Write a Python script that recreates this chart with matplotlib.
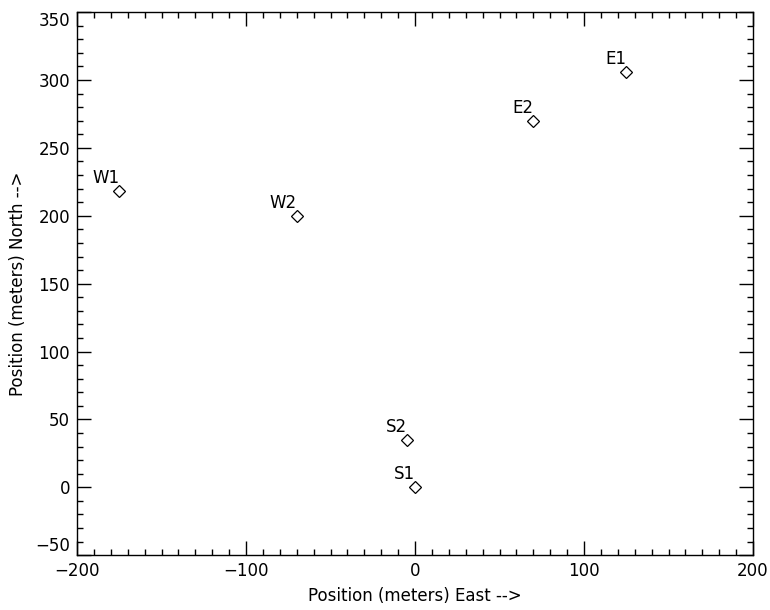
import matplotlib.pyplot as plt
from matplotlib.ticker import MultipleLocator

# station positions (meters)
names = ["S1", "S2", "W1", "W2", "E1", "E2"]
east = [0, -5, -175, -70, 125, 70]
north = [0, 35, 218, 200, 306, 270]

xticks = [-200, -100, 0, 100, 200]
yticks = [-50, 0, 50, 100, 150, 200, 250, 300, 350]

fig = plt.figure(figsize=(7.7, 6.1), dpi=100)
ax = fig.add_axes([0.100, 0.090, 0.878, 0.890])

ax.plot(east, north, linestyle="none", marker="D", markersize=6.5,
        markerfacecolor="none", markeredgecolor="black", markeredgewidth=0.9)

for name, x, y in zip(names, east, north):
    ax.annotate(name, (x, y), xytext=(0, 3), textcoords="offset points",
                ha="right", va="bottom", fontsize=12)

ax.set_xticks(xticks)
ax.set_yticks(yticks)
ax.set_xlim(xticks[0], xticks[-1])
ax.set_ylim(yticks[0], yticks[-1])
ax.xaxis.set_minor_locator(MultipleLocator(10))
ax.yaxis.set_minor_locator(MultipleLocator(10))
ax.tick_params(which="both", direction="in", top=True, right=True,
               labelsize=12, width=1)
ax.tick_params(which="major", length=10, pad=5)
ax.tick_params(which="minor", length=4)
for s in ax.spines.values():
    s.set_linewidth(1)

# IDL keeps the end labels inside the axis range
yt = ax.yaxis.get_major_ticks()
yt[0].label1.set_verticalalignment("bottom")
yt[-1].label1.set_verticalalignment("top")

ax.set_xlabel("Position (meters) East -->", fontsize=12, labelpad=5)
ax.set_ylabel("Position (meters) North -->", fontsize=12, labelpad=6)

fig.savefig("out.png", dpi=100)
